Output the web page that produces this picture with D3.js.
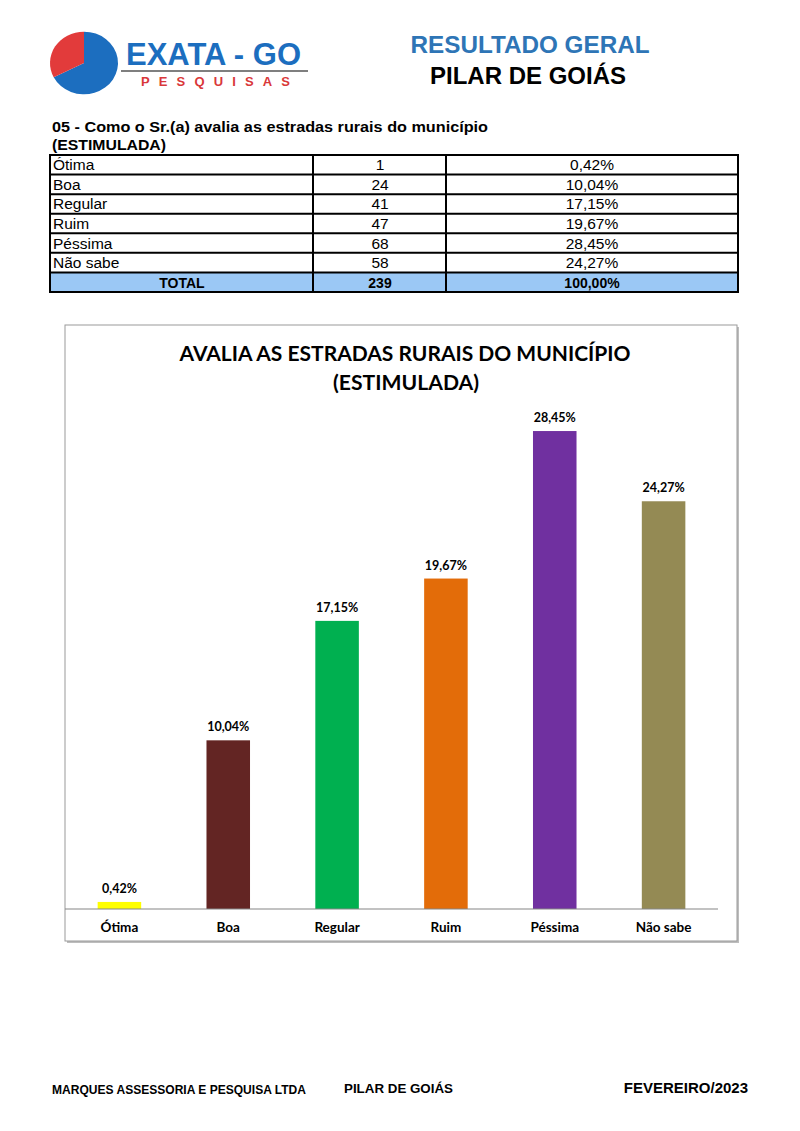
<!DOCTYPE html>
<html><head><meta charset="utf-8">
<script src="https://cdn.jsdelivr.net/npm/d3@7"></script>
<style>
html,body{margin:0;padding:0;background:#fff;}
svg{display:block;}
</style></head>
<body>
<svg id="page" width="800" height="1131"></svg>
<script>
// ---- data ----
const tableLabels = ["Ótima","Boa","Regular","Ruim","Péssima","Não sabe"];
const categories = ["Ótima","Boa","Regular","Ruim","Péssima","Não sabe"];
const counts = [1,24,41,47,68,58];
const percents = [0.42,10.04,17.15,19.67,28.45,24.27];
const percentLabels = ["0,42%","10,04%","17,15%","19,67%","28,45%","24,27%"];
const totalCount = "239";
const totalPercent = "100,00%";
const barColors = ["#FFFF00","#632523","#00B050","#E36C09","#7030A0","#948A54"];

const svg = d3.select("#page");
const narrow = "'Liberation Sans Narrow','Arial Narrow','Liberation Sans',Arial,sans-serif";
const arial = "'Liberation Sans',Arial,sans-serif";
const cal = "Lato,'Open Sans',sans-serif";

// ---- logo ----
const logo = svg.append("g").attr("transform","translate(84,63)");
const pie = d3.pie().sort(null).startAngle(0).endAngle(2*Math.PI);
const logoArcs = pie([243,117]);
const arcGen = d3.arc().innerRadius(0).outerRadius(33);
logo.selectAll("path").data(logoArcs).join("path")
  .attr("d",arcGen).attr("fill",(d,i)=>i===0?"#1C6EBF":"#E23B3B")
  .attr("transform","scale(1.03,0.95)");
svg.append("text").attr("x",126).attr("y",65).attr("font-family",arial).attr("font-weight","bold")
  .attr("font-size",31).attr("fill","#1C6EBF").attr("textLength",175).attr("lengthAdjust","spacingAndGlyphs").text("EXATA - GO");
svg.append("line").attr("x1",121).attr("x2",308).attr("y1",71).attr("y2",71).attr("stroke","#7f7f7f").attr("stroke-width",2);
svg.append("text").attr("x",141).attr("y",86).attr("font-family",arial).attr("font-weight","bold")
  .attr("font-size",13).attr("fill","#D9383A").attr("textLength",149).text("PESQUISAS");

svg.append("text").attr("x",530).attr("y",53).attr("text-anchor","middle").attr("font-family",arial)
  .attr("font-weight","bold").attr("font-size",23).attr("fill","#2E75B6").attr("textLength",239).attr("lengthAdjust","spacingAndGlyphs").text("RESULTADO GERAL");
svg.append("text").attr("x",528).attr("y",84).attr("text-anchor","middle").attr("font-family",arial)
  .attr("font-weight","bold").attr("font-size",23).attr("fill","#000").attr("textLength",196).attr("lengthAdjust","spacingAndGlyphs").text("PILAR DE GOIÁS");

// ---- question ----
svg.append("text").attr("x",52).attr("y",132).attr("font-family",narrow).attr("font-weight","bold")
  .attr("font-size",15).attr("textLength",436).attr("lengthAdjust","spacingAndGlyphs").text("05 - Como o Sr.(a) avalia as estradas rurais do município");
svg.append("text").attr("x",52).attr("y",150).attr("font-family",narrow).attr("font-weight","bold")
  .attr("font-size",15).attr("textLength",114).attr("lengthAdjust","spacingAndGlyphs").text("(ESTIMULADA)");

// ---- table ----
const tRows = tableLabels.map((l,i)=>({label:l,count:String(counts[i]),pct:percentLabels[i],total:false}));
tRows.push({label:"TOTAL",count:totalCount,pct:totalPercent,total:true});
const tx0=50, tx1=313, tx2=446, tx3=738, ty0=155, ty1=292;
const ty = d3.scaleBand().domain(d3.range(tRows.length)).range([ty0,ty1]);
const tg = svg.append("g");
tg.selectAll("rect.fill").data(tRows.filter(r=>r.total)).join("rect")
  .attr("x",tx0).attr("y",ty(tRows.length-1)).attr("width",tx3-tx0).attr("height",ty.bandwidth()).attr("fill","#9BC8F5");
const rowG = tg.selectAll("g.row").data(tRows).join("g").attr("transform",(d,i)=>`translate(0,${ty(i)+ty.bandwidth()/2+5.5})`);
rowG.append("text").attr("x",d=>d.total?182:53).attr("text-anchor",d=>d.total?"middle":"start")
  .attr("font-family",arial).attr("font-size",d=>d.total?14:15.5).attr("font-weight",d=>d.total?"bold":"normal")
  .text(d=>d.label);
rowG.append("text").attr("x",380).attr("text-anchor","middle").attr("font-family",arial)
  .attr("font-size",d=>d.total?14:15.5).attr("font-weight",d=>d.total?"bold":"normal").text(d=>d.count);
rowG.append("text").attr("x",592).attr("text-anchor","middle").attr("font-family",arial)
  .attr("font-size",d=>d.total?14:15.5).attr("font-weight",d=>d.total?"bold":"normal").text(d=>d.pct);
d3.range(tRows.length+1).forEach(i=>{
  const y = i<tRows.length?ty(i):ty1;
  tg.append("line").attr("x1",tx0-1).attr("x2",tx3+1).attr("y1",y).attr("y2",y).attr("stroke","#000").attr("stroke-width",2);
});
[tx0,tx1,tx2,tx3].forEach(x=>{
  tg.append("line").attr("x1",x).attr("x2",x).attr("y1",ty0).attr("y2",ty1).attr("stroke","#000").attr("stroke-width",2);
});

// ---- chart frame ----
const fx=65, fy=325, fw=672, fh=616;
svg.append("rect").attr("x",fx+2).attr("y",fy+2).attr("width",fw).attr("height",fh).attr("fill","#bdbdbd");
svg.append("rect").attr("x",fx).attr("y",fy).attr("width",fw).attr("height",fh).attr("fill","#fff")
  .attr("stroke","#9a9a9a").attr("stroke-width",1);

svg.append("text").attr("x",405).attr("y",361).attr("text-anchor","middle").attr("font-family",cal)
  .attr("font-weight","bold").attr("font-size",21).attr("textLength",451).attr("lengthAdjust","spacingAndGlyphs")
  .text("AVALIA AS ESTRADAS RURAIS DO MUNICÍPIO");
svg.append("text").attr("x",406).attr("y",390).attr("text-anchor","middle").attr("font-family",cal)
  .attr("font-weight","bold").attr("font-size",21).attr("textLength",146).attr("lengthAdjust","spacingAndGlyphs")
  .text("(ESTIMULADA)");

// ---- bars ----
const x = d3.scaleBand().domain(categories).range([65,718]).paddingInner(0.6).paddingOuter(0.3);
const y = d3.scaleLinear().domain([0,30]).range([909,405]);
const data = categories.map((c,i)=>({c,v:percents[i],l:percentLabels[i],col:barColors[i]}));
svg.append("g").selectAll("rect").data(data).join("rect")
  .attr("x",d=>x(d.c)).attr("y",d=>y(d.v)).attr("width",x.bandwidth()).attr("height",d=>y(0)-y(d.v))
  .attr("fill",d=>d.col);
svg.append("g").selectAll("text").data(data).join("text")
  .attr("x",d=>x(d.c)+x.bandwidth()/2).attr("y",d=>y(d.v)-9).attr("text-anchor","middle")
  .attr("font-family",cal).attr("font-weight","bold").attr("font-size",12.5).text(d=>d.l);

const xAxis = svg.append("g").attr("transform","translate(0,909)")
  .call(d3.axisBottom(x).tickSize(0).tickPadding(13));
xAxis.select(".domain").attr("stroke","#868686").attr("stroke-width",1.2).attr("d","M65,0H718");
xAxis.selectAll("text").attr("font-family",cal).attr("font-weight","bold").attr("font-size",13.5).attr("fill","#000");

// ---- footer ----
svg.append("text").attr("x",52).attr("y",1094).attr("font-family",narrow).attr("font-weight","bold")
  .attr("font-size",12).attr("textLength",254).attr("lengthAdjust","spacingAndGlyphs").text("MARQUES ASSESSORIA E PESQUISA LTDA");
svg.append("text").attr("x",344).attr("y",1093).attr("font-family",narrow).attr("font-weight","bold")
  .attr("font-size",12.5).attr("textLength",109).attr("lengthAdjust","spacingAndGlyphs").text("PILAR DE GOIÁS");
svg.append("text").attr("x",748).attr("y",1093).attr("text-anchor","end").attr("font-family",narrow).attr("font-weight","bold")
  .attr("font-size",15).text("FEVEREIRO/2023");
</script>
</body></html>
